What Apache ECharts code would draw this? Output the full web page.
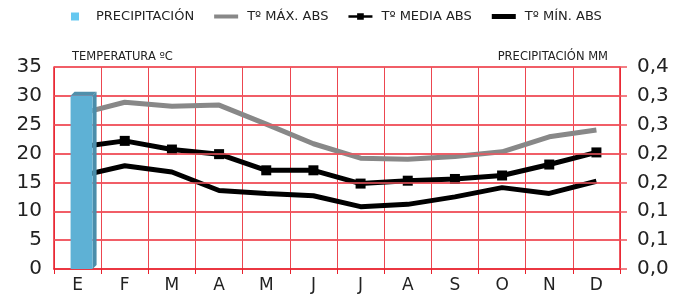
<!DOCTYPE html>
<html>
<head>
<meta charset="utf-8">
<script src="https://cdn.jsdelivr.net/npm/echarts@6/dist/echarts.min.js"></script>
<style>html,body{margin:0;padding:0;background:#fff}#main{width:683px;height:296px}</style>
</head>
<body>
<div id="main"></div>
<script>
// datos climaticos mensuales
var meses = ['E', 'F', 'M', 'A', 'M', 'J', 'J', 'A', 'S', 'O', 'N', 'D'];
var precipitacion = [0.3, 0, 0, 0, 0, 0, 0, 0, 0, 0, 0, 0];
var tMax = [26.8, 28.9, 28.2, 28.4, 25.1, 21.7, 19.2, 19.0, 19.5, 20.3, 22.9, 24.1];
var tMedia = [21.1, 22.2, 20.7, 19.9, 17.1, 17.1, 14.8, 15.3, 15.6, 16.2, 18.1, 20.2];
var tMin = [16.0, 17.9, 16.8, 13.6, 13.1, 12.7, 10.8, 11.2, 12.5, 14.1, 13.1, 15.2];
var ticksTemp = [5, 10, 15, 20, 25, 30, 35];
var etiquetasPrecip = ['0,0', '0,1', '0,1', '0,2', '0,2', '0,3', '0,3', '0,4'];

var rojo = '#e8202c';
var rosa = '#f0555e';
var fuente = 'DejaVu Sans';

// solo los meses con precipitacion
var datosPrecip = [];
precipitacion.forEach(function (v, i) {
  if (v > 0) datosPrecip.push([i, v]);
});

// barra con efecto 3D (cara frontal, lateral y superior)
function barra3d(params, api) {
  var top = api.coord([api.value(0), api.value(1)]);
  var base = api.coord([api.value(0), 0]);
  var w = 22, d = 4;
  var x0 = top[0] - 7;
  return {
    type: 'group',
    children: [
      { type: 'polygon', shape: { points: [[x0 + w, top[1]], [x0 + w + d, top[1] - d], [x0 + w + d, base[1] - d], [x0 + w, base[1]]] }, style: { fill: '#4a8daa' } },
      { type: 'polygon', shape: { points: [[x0, top[1]], [x0 + d, top[1] - d], [x0 + w + d, top[1] - d], [x0 + w, top[1]]] }, style: { fill: '#4f8fab' } },
      { type: 'rect', shape: { x: x0, y: top[1], width: w, height: base[1] - top[1] }, style: { fill: '#5eb1d5' } }
    ]
  };
}

var chart = echarts.init(document.getElementById('main'));

var option = {
  animation: false,
  textStyle: { fontFamily: fuente },
  title: [
    { text: 'TEMPERATURA ºC', left: 67, top: 46, textStyle: { fontSize: 11.5, fontWeight: 'normal', color: '#222', fontFamily: fuente } },
    { text: 'PRECIPITACIÓN MM', right: 70, top: 46, textStyle: { fontSize: 11.5, fontWeight: 'normal', color: '#222', fontFamily: fuente } }
  ],
  legend: {
    left: 66,
    top: 5,
    itemWidth: 24,
    itemHeight: 8,
    itemGap: 20,
    symbolKeepAspect: true,
    textStyle: { fontSize: 13, color: '#222', fontFamily: fuente, padding: [0, 0, 0, 4] },
    data: [
      { name: 'PRECIPITACIÓN', icon: 'path://M0,0h10v10h-10z', itemStyle: { color: '#66c8f0' } },
      { name: 'Tº MÁX. ABS', icon: 'path://M0,0h24v4h-24z', itemStyle: { color: '#888888' } },
      { name: 'Tº MEDIA ABS', icon: 'path://M0,3h13v4h-13zM13,0h10v10h-10zM23,3h13v4h-13z', itemStyle: { color: '#000' } },
      { name: 'Tº MÍN. ABS', icon: 'path://M0,0h24v5h-24z', itemStyle: { color: '#000' } }
    ]
  },
  grid: { left: 54, right: 63, top: 67, bottom: 27 },
  xAxis: {
    type: 'category',
    data: meses,
    boundaryGap: true,
    axisLine: { lineStyle: { color: rojo, width: 1.5 } },
    axisTick: { show: true, length: 5, interval: 0, lineStyle: { color: rojo } },
    splitLine: { show: true, interval: 0, lineStyle: { color: '#ec4650', width: 1 } },
    axisLabel: { fontSize: 17, color: '#222', margin: 8, interval: 0 }
  },
  yAxis: [
    {
      type: 'value',
      min: 0, max: 35, interval: 5,
      axisLine: { show: true, lineStyle: { color: rojo, width: 1.5 } },
      axisTick: { show: false },
      splitLine: { show: true, lineStyle: { color: rosa, width: 1.5 } },
      axisLabel: { fontSize: 20, color: '#222', margin: 12 }
    },
    {
      type: 'value',
      min: 0, max: 0.35, interval: 0.05,
      axisLine: { show: true, lineStyle: { color: rojo, width: 1.5 } },
      axisTick: { show: true, length: 7, lineStyle: { color: rosa, width: 1.5 } },
      splitLine: { show: false },
      axisLabel: {
        fontSize: 20, color: '#222', margin: 17,
        formatter: function (v) { return etiquetasPrecip[Math.round(v / 0.05)]; }
      }
    }
  ],
  series: [
    {
      // lineas guia horizontales; la serie en si no se ve
      name: 'guia',
      type: 'line',
      data: tMax,
      symbol: 'none',
      silent: true,
      lineStyle: { width: 0, color: 'rgba(0,0,0,0)' },
      z: 1,
      markLine: {
        silent: true,
        symbol: ['none', 'none'],
        label: { show: false },
        lineStyle: { color: rosa, width: 1.5, type: 'solid', opacity: 1 },
        emphasis: { disabled: true },
        data: ticksTemp.map(function (t) { return { yAxis: t }; })
      }
    },
    {
      name: 'Tº MÁX. ABS',
      type: 'line',
      data: tMax,
      symbol: 'none',
      color: '#888888',
      lineStyle: { color: '#888888', width: 5 },
      z: 2
    },
    {
      name: 'Tº MEDIA ABS',
      type: 'line',
      data: tMedia,
      symbol: 'rect',
      symbolSize: 10,
      color: '#000',
      itemStyle: { color: '#000' },
      lineStyle: { color: '#000', width: 5 },
      z: 3
    },
    {
      name: 'Tº MÍN. ABS',
      type: 'line',
      data: tMin,
      symbol: 'none',
      color: '#000',
      lineStyle: { color: '#000', width: 5 },
      z: 3
    },
    {
      name: 'PRECIPITACIÓN',
      type: 'custom',
      yAxisIndex: 1,
      renderItem: barra3d,
      itemStyle: { color: '#66c8f0' },
      data: datosPrecip,
      z: 10
    }
  ]
};

chart.setOption(option);
</script>
</body>
</html>
